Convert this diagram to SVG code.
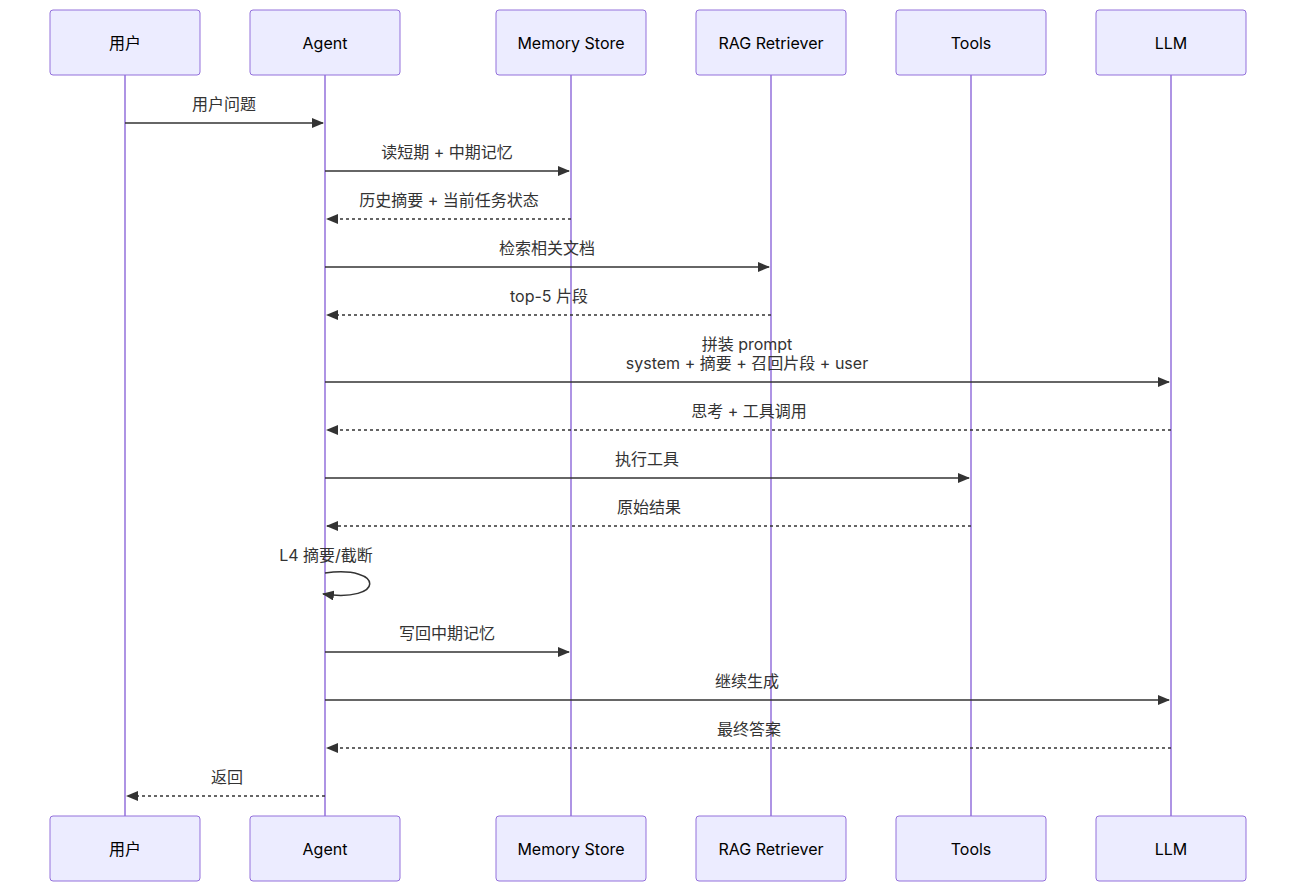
<svg xmlns="http://www.w3.org/2000/svg" width="1296" height="892" viewBox="0 0 1296 892">
<style>
.box{fill:#ECECFF;stroke:#9370DB;stroke-width:1}
.life{stroke:#9370DB;stroke-width:1.5}
.t{font-family:Inter,"Noto Sans CJK SC",sans-serif;font-size:16px;fill:#333;text-anchor:middle}
.at{font-family:Inter,"Noto Sans CJK SC",sans-serif;font-size:16px;fill:#000;text-anchor:middle;dominant-baseline:central}
.m{stroke:#333;stroke-width:1.5;fill:none;marker-end:url(#ah)}
.d{stroke-dasharray:3,3}
</style>
<defs><marker id="ah" viewBox="0 0 12 10" refX="11" refY="5" markerWidth="12" markerHeight="10" markerUnits="userSpaceOnUse" orient="auto"><path d="M0,0L12,5L0,10z" fill="#333"/></marker></defs>
<g id="lifelines">
<line class="life" x1="125" y1="75" x2="125" y2="816"/><line class="life" x1="325" y1="75" x2="325" y2="816"/><line class="life" x1="571" y1="75" x2="571" y2="816"/><line class="life" x1="771" y1="75" x2="771" y2="816"/><line class="life" x1="971" y1="75" x2="971" y2="816"/><line class="life" x1="1171" y1="75" x2="1171" y2="816"/>
</g>
<g id="user"><rect class="box" x="50" y="10" width="150" height="65" rx="3"/><text class="at" x="125" y="43">用户</text><rect class="box" x="50" y="816" width="150" height="65" rx="3"/><text class="at" x="125" y="849">用户</text></g>
<g id="agent"><rect class="box" x="250" y="10" width="150" height="65" rx="3"/><text class="at" x="325" y="43">Agent</text><rect class="box" x="250" y="816" width="150" height="65" rx="3"/><text class="at" x="325" y="849">Agent</text></g>
<g id="memory"><rect class="box" x="496" y="10" width="150" height="65" rx="3"/><text class="at" x="571" y="43">Memory Store</text><rect class="box" x="496" y="816" width="150" height="65" rx="3"/><text class="at" x="571" y="849">Memory Store</text></g>
<g id="rag"><rect class="box" x="696" y="10" width="150" height="65" rx="3"/><text class="at" x="771" y="43">RAG Retriever</text><rect class="box" x="696" y="816" width="150" height="65" rx="3"/><text class="at" x="771" y="849">RAG Retriever</text></g>
<g id="tools"><rect class="box" x="896" y="10" width="150" height="65" rx="3"/><text class="at" x="971" y="43">Tools</text><rect class="box" x="896" y="816" width="150" height="65" rx="3"/><text class="at" x="971" y="849">Tools</text></g>
<g id="llm"><rect class="box" x="1096" y="10" width="150" height="65" rx="3"/><text class="at" x="1171" y="43">LLM</text><rect class="box" x="1096" y="816" width="150" height="65" rx="3"/><text class="at" x="1171" y="849">LLM</text></g>
<g id="connectors">
<line class="m" x1="125" y1="123" x2="323" y2="123"/><text class="t" x="224" y="110">用户问题</text>
<line class="m" x1="325" y1="171" x2="569" y2="171"/><text class="t" x="447" y="158">读短期 + 中期记忆</text>
<line class="m d" x1="571" y1="219" x2="327" y2="219"/><text class="t" x="449" y="206">历史摘要 + 当前任务状态</text>
<line class="m" x1="325" y1="267" x2="769" y2="267"/><text class="t" x="547" y="254">检索相关文档</text>
<line class="m d" x1="771" y1="315" x2="327" y2="315"/><text class="t" x="549" y="302">top-5 片段</text>
<line class="m" x1="325" y1="382" x2="1169" y2="382"/><text class="t" x="747" y="350">拼装 prompt</text><text class="t" x="747" y="369">system + 摘要 + 召回片段 + user</text>
<line class="m d" x1="1171" y1="430" x2="327" y2="430"/><text class="t" x="749" y="417">思考 + 工具调用</text>
<line class="m" x1="325" y1="478" x2="969" y2="478"/><text class="t" x="647" y="465">执行工具</text>
<line class="m d" x1="971" y1="526" x2="327" y2="526"/><text class="t" x="649" y="513">原始结果</text>
<path class="m" d="M325,573 C385,565 385,603 323,594"/><text class="t" x="326" y="561">L4 摘要/截断</text>
<line class="m" x1="325" y1="652" x2="569" y2="652"/><text class="t" x="447" y="639">写回中期记忆</text>
<line class="m" x1="325" y1="700" x2="1169" y2="700"/><text class="t" x="747" y="687">继续生成</text>
<line class="m d" x1="1171" y1="748" x2="327" y2="748"/><text class="t" x="749" y="735">最终答案</text>
<line class="m d" x1="325" y1="796" x2="127" y2="796"/><text class="t" x="227" y="783">返回</text>
</g>
</svg>
